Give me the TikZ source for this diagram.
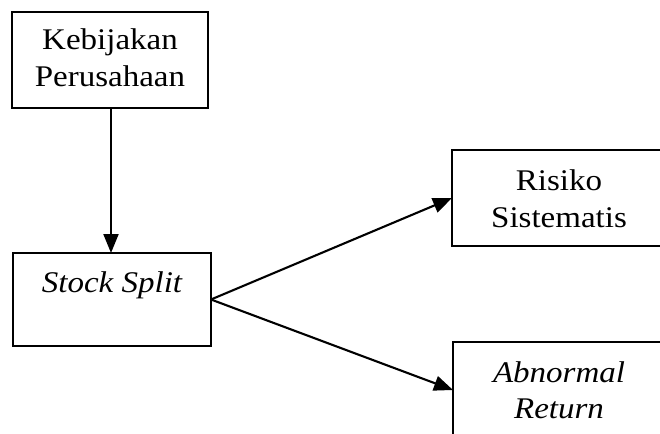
\documentclass[tikz,border=0pt]{standalone}
\usepackage{fontspec}
\setmainfont{Liberation Serif}[FakeStretch=1.1]
\usetikzlibrary{arrows.meta}
\begin{document}
\begin{tikzpicture}[x=1pt,y=-1pt,
  box/.style={draw=black,line width=2.4pt,rectangle,inner sep=0pt,outer sep=0pt},
  txt/.style={anchor=base,inner sep=0pt,font=\fontsize{30}{37}\selectfont},
  conn/.style={line width=2.1pt,-{Triangle[length=19pt,width=15pt]}}]
\useasboundingbox (0,0) rectangle (660,433);
\clip (0,0) rectangle (660,433);
\node[box,minimum width=196pt,minimum height=96pt] (k) at (110,60) {};
\node[box,minimum width=198pt,minimum height=93pt] (s) at (112,299.5) {};
\node[box,minimum width=214pt,minimum height=96pt] (r) at (559,198) {};
\node[box,minimum width=214pt,minimum height=96pt] (a) at (560,390) {};
\node[txt] (k1) at (110,50) {Kebijakan};
\node[txt] (k2) at (110,87) {Perusahaan};
\node[txt] (s1) at (112,292) {\itshape Stock Split};
\node[txt] (r1) at (559,190) {Risiko};
\node[txt] (r2) at (559,227) {Sistematis};
\node[txt] (a1) at (559,382) {\itshape Abnormal};
\node[txt] (a2) at (559,418) {\itshape Return};
\draw[conn] (k.south -| 111,0) -- (s.north -| 111,0);
\draw[conn] (s.east) -- (r.west);
\draw[conn] (s.east) -- (a.west);
\end{tikzpicture}
\end{document}
